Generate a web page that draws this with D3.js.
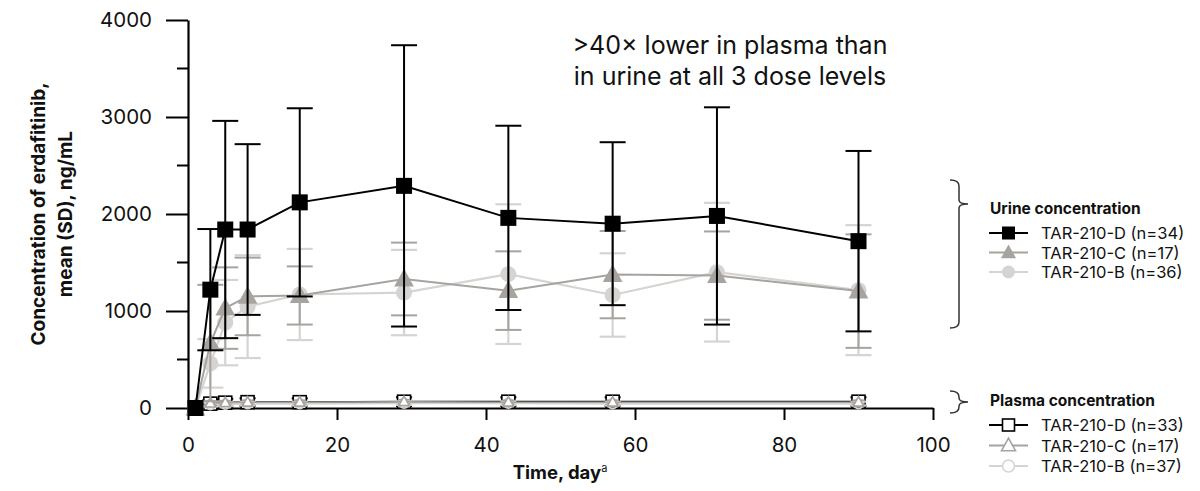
<!DOCTYPE html>
<html>
<head>
<meta charset="utf-8">
<script src="https://cdn.jsdelivr.net/npm/d3@7"></script>
<style>
    body { margin: 0; background: #fff; }
    .chart-container { width: 1200px; height: 491px; }
    text { font-family: Inter, "Liberation Sans", sans-serif; fill: #111; }
</style>
</head>
<body>
<div class="chart-container"></div>
<script>
// days sampled
const urineDays = [1, 3, 5, 8, 15, 29, 43, 57, 71, 90];
const plasmaDays = [1, 3, 5, 8, 15, 29, 43, 57, 90];

// urine mean and SD, ng/mL
const urineD = [0, 1220, 1840, 1840, 2120, 2290, 1960, 1900, 1980, 1720];
const urineDsd = [0, 625, 1120, 880, 970, 1450, 950, 840, 1120, 930];
const urineC = [0, 670, 1030, 1150, 1160, 1330, 1210, 1375, 1365, 1205];
const urineCsd = [0, 600, 420, 400, 300, 375, 405, 450, 455, 585];
const urineB = [0, 460, 880, 1045, 1170, 1190, 1380, 1165, 1400, 1215];
const urineBsd = [0, 250, 440, 530, 470, 440, 720, 430, 715, 670];

// plasma mean and SD, ng/mL
const plasmaD = [0, 45, 55, 60, 60, 65, 65, 65, 65];
const plasmaDsd = [0, 35, 40, 40, 40, 45, 45, 45, 45];
const plasmaC = [0, 50, 55, 60, 60, 65, 60, 60, 60];
const plasmaCsd = [0, 20, 20, 20, 20, 20, 20, 20, 20];
const plasmaB = [0, 35, 40, 45, 45, 50, 50, 45, 45];
const plasmaBsd = [0, 20, 20, 20, 20, 20, 20, 20, 20];

const xTicks = [0, 20, 40, 60, 80, 100];
const yTicks = [0, 1000, 2000, 3000, 4000];
const yMinorTicks = [500, 1500, 2500, 3500];

const urineLabels = ["TAR-210-D (n=34)", "TAR-210-C (n=17)", "TAR-210-B (n=36)"];
const plasmaLabels = ["TAR-210-D (n=33)", "TAR-210-C (n=17)", "TAR-210-B (n=37)"];

function init() {
    const w = 1200;
    const h = 491;

    const svg = d3.select(".chart-container")
        .append("svg")
        .attr("width", w)
        .attr("height", h);

    const x = d3.scaleLinear().domain([0, 100]).range([188, 933]);
    const y = d3.scaleLinear().domain([0, 4000]).range([408, 20]);

    const colD = "#000000";
    const colC = "#a7a39f";
    const colB = "#d6d4d2";

    // axes
    const xAxis = svg.append("g")
        .attr("transform", `translate(0,${y(0)})`)
        .call(d3.axisBottom(x).tickValues(xTicks).tickSize(12).tickPadding(17).tickSizeOuter(0));
    xAxis.select(".domain").attr("stroke-width", 2.2);
    xAxis.selectAll(".tick line").attr("stroke-width", 2);
    xAxis.selectAll(".tick text").style("font-size", "20.5px").attr("fill", "#1a1a1a");

    const yAxis = svg.append("g")
        .attr("transform", `translate(${x(0)},0)`)
        .call(d3.axisLeft(y).tickValues(yTicks).tickFormat(d3.format("d")).tickSize(22).tickPadding(14).tickSizeOuter(0));
    yAxis.select(".domain").attr("stroke-width", 2.2);
    yAxis.selectAll(".tick line").attr("stroke-width", 2);
    yAxis.selectAll(".tick text").style("font-size", "20.5px").attr("fill", "#1a1a1a");

    svg.append("g").selectAll("line")
        .data(yMinorTicks)
        .enter()
        .append("line")
        .attr("x1", x(0) - 11)
        .attr("x2", x(0))
        .attr("y1", d => y(d))
        .attr("y2", d => y(d))
        .attr("stroke", "#000")
        .attr("stroke-width", 2);

    // axis titles
    const yTitle = svg.append("text")
        .attr("transform", `translate(45,214) rotate(-90)`)
        .attr("text-anchor", "middle")
        .style("font-size", "19px")
        .style("font-weight", "700");
    yTitle.append("tspan").attr("x", 0).attr("dy", 0).text("Concentration of erdafitinib,");
    yTitle.append("tspan").attr("x", 0).attr("dy", 27).text("mean (SD), ng/mL");

    const xTitle = svg.append("text")
        .attr("x", 560)
        .attr("y", 479)
        .attr("text-anchor", "middle")
        .style("font-size", "18.5px")
        .style("font-weight", "700");
    xTitle.append("tspan").text("Time, day");
    xTitle.append("tspan").attr("dy", -7).style("font-size", "11px").style("font-weight", "400").text("a");

    // annotation
    const note = svg.append("text")
        .attr("x", 730)
        .attr("y", 54)
        .attr("text-anchor", "middle")
        .style("font-size", "25px");
    note.append("tspan").attr("x", 730).text(">40× lower in plasma than");
    note.append("tspan").attr("x", 730).attr("dy", 31).text("in urine at all 3 dose levels");

    const line = d3.line().x(d => x(d.t)).y(d => y(d.v));

    function toPoints(days, vals, sds) {
        return days.map((t, i) => ({ t: t, v: vals[i], sd: sds[i] }));
    }

    function drawMarker(g, shape, cx, cy, size, color, hollow) {
        const fill = hollow ? "#fff" : color;
        const sw = hollow ? 1.6 : 0;
        if (shape === "square") {
            g.append("rect")
                .attr("x", cx - size / 2).attr("y", cy - size / 2)
                .attr("width", size).attr("height", size)
                .attr("fill", fill).attr("stroke", color).attr("stroke-width", sw);
        } else if (shape === "triangle") {
            const s = size * 0.58;
            g.append("path")
                .attr("d", `M${cx},${cy - s * 1.05} L${cx + s},${cy + s * 0.75} L${cx - s},${cy + s * 0.75} Z`)
                .attr("fill", fill).attr("stroke", color).attr("stroke-width", sw);
        } else {
            g.append("circle")
                .attr("cx", cx).attr("cy", cy).attr("r", size / 2)
                .attr("fill", hollow ? "none" : fill).attr("stroke", color).attr("stroke-width", sw);
        }
    }

    function drawSeries(points, color, shape, size, hollow, capW, lw) {
        const g = svg.append("g");
        points.forEach(p => {
            if (p.sd <= 0) return;
            g.append("line")
                .attr("x1", x(p.t)).attr("x2", x(p.t))
                .attr("y1", y(p.v - p.sd)).attr("y2", y(p.v + p.sd))
                .attr("stroke", color).attr("stroke-width", lw);
            [p.v - p.sd, p.v + p.sd].forEach(v => {
                g.append("line")
                    .attr("x1", x(p.t) - capW).attr("x2", x(p.t) + capW)
                    .attr("y1", y(v)).attr("y2", y(v))
                    .attr("stroke", color).attr("stroke-width", lw);
            });
        });
        g.append("path")
            .datum(points)
            .attr("d", line)
            .attr("fill", "none")
            .attr("stroke", color)
            .attr("stroke-width", lw);
        points.forEach(p => drawMarker(g, shape, x(p.t), y(p.v), size, color, hollow));
    }

    // plasma underneath
    drawSeries(toPoints(plasmaDays, plasmaD, plasmaDsd), colD, "square", 13, true, 8, 2);
    drawSeries(toPoints(plasmaDays, plasmaB, plasmaBsd), colB, "circle", 10, true, 8, 2);
    drawSeries(toPoints(plasmaDays, plasmaC, plasmaCsd), colC, "triangle", 9, true, 6, 1.6);

    // urine
    drawSeries(toPoints(urineDays, urineB, urineBsd), colB, "circle", 16, false, 13, 2.2);
    drawSeries(toPoints(urineDays, urineC, urineCsd), colC, "triangle", 17, false, 13, 2);
    drawSeries(toPoints(urineDays, urineD, urineDsd), colD, "square", 16, false, 13, 2);

    // brackets
    function bracket(top, mid, bottom) {
        const bx = 959;
        const d = `M950,${top} Q${bx},${top} ${bx},${top + 6} L${bx},${mid - 4} Q${bx},${mid} ${bx + 9},${mid}` +
            ` Q${bx},${mid} ${bx},${mid + 4} L${bx},${bottom - 6} Q${bx},${bottom} 950,${bottom}`;
        svg.append("path")
            .attr("d", d)
            .attr("fill", "none")
            .attr("stroke", "#333")
            .attr("stroke-width", 1.5);
    }
    bracket(180, 204, 328);
    bracket(391, 402, 413);

    // legends
    function legend(title, labels, top, gap, hollow) {
        const g = svg.append("g");
        g.append("text")
            .attr("x", 990)
            .attr("y", top)
            .style("font-size", "15.5px")
            .style("font-weight", "700")
            .text(title);
        const cols = [colD, colC, colB];
        const shapes = ["square", "triangle", "circle"];
        labels.forEach((lab, i) => {
            const cy = top + 19 + i * gap;
            g.append("line")
                .attr("x1", 989).attr("x2", 1028)
                .attr("y1", cy).attr("y2", cy)
                .attr("stroke", cols[i]).attr("stroke-width", 2);
            const lg = g.append("g");
            drawMarker(lg, shapes[i], 1008.5, cy, hollow ? 12 : 13, cols[i], hollow);
            lg.selectAll("circle").attr("fill", hollow ? "#fff" : cols[i]);
            g.append("text")
                .attr("x", 1041)
                .attr("y", cy + 6)
                .style("font-size", "16.5px")
                .attr("fill", "#333")
                .text(lab);
        });
    }
    legend("Urine concentration", urineLabels, 214, 19.5, false);
    legend("Plasma concentration", plasmaLabels, 406, 20.5, true);
}

window.onload = init;
</script>
</body>
</html>
